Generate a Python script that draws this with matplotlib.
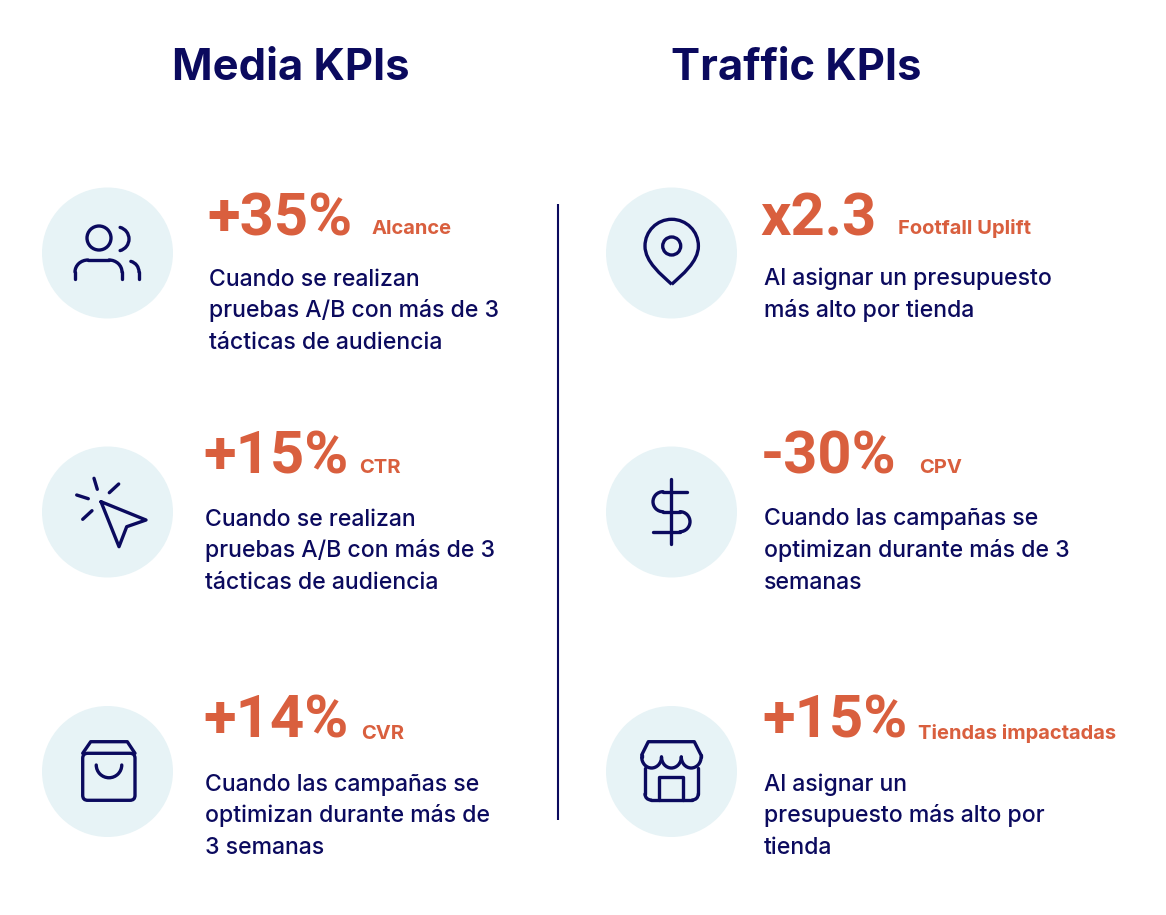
# -*- coding: utf-8 -*-
import numpy as np
import matplotlib
matplotlib.use("Agg")
import matplotlib.pyplot as plt
from matplotlib.patches import Circle, Arc, PathPatch, FancyBboxPatch
from matplotlib.path import Path

NAVY = "#0b0a5e"
ORANGE = "#d95f3e"
PALE = "#e7f3f6"
FONT = "Inter"
VALUE_FONT = "Roboto"

# data
titles = ["Media KPIs", "Traffic KPIs"]
values = ["+35%", "+15%", "+14%", "x2.3", "-30%", "+15%"]
labels = ["Alcance", "CTR", "CVR", "Footfall Uplift", "CPV", "Tiendas impactadas"]
bodies = [
    ["Cuando se realizan", "pruebas A/B con más de 3", "tácticas de audiencia"],
    ["Cuando se realizan", "pruebas A/B con más de 3", "tácticas de audiencia"],
    ["Cuando las campañas se", "optimizan durante más de", "3 semanas"],
    ["Al asignar un presupuesto", "más alto por tienda"],
    ["Cuando las campañas se", "optimizan durante más de 3", "semanas"],
    ["Al asignar un", "presupuesto más alto por", "tienda"],
]

# layout, in pixels
title_x = [172, 671]
circle_x = [107.5, 107.5, 107.5, 671.5, 671.5, 671.5]
circle_y = [253, 512, 771.5, 253, 512, 771.5]
value_x = [207, 203, 203, 760, 761, 762]
value_y = [235, 474, 738, 235, 474, 738]
label_x = [372, 359, 361, 898, 919, 918]
label_y = [234, 473, 739, 234, 473, 739]
body_x = [209, 205, 205, 764, 764, 764]
body_y = [285.5, 525.5, 790.5, 285.5, 525.5, 790.5]

fig = plt.figure(figsize=(11.66, 9.15), dpi=100)
ax = fig.add_axes([0, 0, 1, 1])
ax.set_xlim(0, 1166)
ax.set_ylim(915, 0)
ax.axis("off")

LW = 2.4


def stroke(xs, ys):
    ax.plot(xs, ys, color=NAVY, lw=LW, solid_capstyle="round",
            solid_joinstyle="round", zorder=3)


def arc(cx, cy, w, h, t1, t2):
    ax.add_patch(Arc((cx, cy), w, h, theta1=t1, theta2=t2, color=NAVY, lw=LW,
                     capstyle="round", zorder=3))


def users_icon():
    ax.add_patch(Circle((99, 238), 12, fill=False, ec=NAVY, lw=LW, zorder=3))
    arc(117, 239, 24, 24, -75, 75)
    arc(88, 272, 26, 24, 180, 270)
    arc(109, 272, 26, 24, 270, 360)
    stroke([88, 109], [260, 260])
    stroke([75, 75], [272, 279])
    stroke([122, 122], [272, 279])
    arc(128, 272, 22, 22, 285, 360)
    stroke([139, 139], [272, 279])


def cursor_icon():
    stroke([101, 146, 126.7, 119, 101], [501.7, 520, 526.7, 546.7, 501.7])
    stroke([94, 97.3], [478.3, 489.3])
    stroke([109.3, 118.7], [492.7, 484])
    stroke([76.7, 88.3], [495, 498.7])
    stroke([82.7, 92], [519.3, 510.7])


def bag_icon():
    ax.add_patch(FancyBboxPatch((87.7, 758.3), 42.3, 37, boxstyle="round,pad=5,rounding_size=5",
                                fill=False, ec=NAVY, lw=LW, zorder=3))
    stroke([82.7, 90.7, 127.3, 135], [753.3, 741.7, 741.7, 753.3])
    arc(109, 765, 25.5, 25.5, 0, 180)


def pin_icon():
    cx, cy, r = 671.7, 246, 26.7
    k = 0.5523 * r
    verts = [(cx, 284.3),
             (cx - 10, 275), (cx - r, 262), (cx - r, cy),
             (cx - r, cy - k), (cx - k, cy - r), (cx, cy - r),
             (cx + k, cy - r), (cx + r, cy - k), (cx + r, cy),
             (cx + r, 262), (cx + 10, 275), (cx, 284.3)]
    codes = [Path.MOVETO] + [Path.CURVE4] * 12
    ax.add_patch(PathPatch(Path(verts, codes), fill=False, ec=NAVY, lw=LW,
                           joinstyle="round", zorder=3))
    ax.add_patch(Circle((cx, cy), 9, fill=False, ec=NAVY, lw=LW, zorder=3))


def dollar_icon():
    stroke([671, 671], [479.3, 544])
    stroke([686.7, 663], [491.7, 491.7])
    arc(663, 501.7, 20, 20, 90, 270)
    stroke([663, 680], [511.7, 511.7])
    arc(680, 521.7, 20, 20, 270, 450)
    stroke([680, 652.7], [531.7, 531.7])


def store_icon():
    stroke([641.7, 648.3, 694.3, 701], [755, 741.7, 741.7, 755])
    for sx in [651.6, 671.4, 691.2]:
        arc(sx, 757, 19.8, 22, 0, 180)
    stroke([641.7, 641.7], [755, 757])
    stroke([701, 701], [755, 757])
    stroke([645, 645], [768, 794])
    stroke([698.3, 698.3], [768, 794])
    arc(651, 794, 12, 12, 90, 180)
    arc(692.3, 794, 12, 12, 0, 90)
    stroke([651, 692.3], [800, 800])
    stroke([659.3, 659.3, 683.3, 683.3], [800, 776.7, 776.7, 800])


icons = [users_icon, cursor_icon, bag_icon, pin_icon, dollar_icon, store_icon]

for t, x in zip(titles, title_x):
    ax.text(x, 79.5, t, color=NAVY, fontsize=31.3, fontweight="bold", family=FONT,
            ha="left", va="baseline")

ax.plot([558, 558], [204, 820], color=NAVY, lw=1.5, solid_capstyle="butt")

for i in range(6):
    ax.add_patch(Circle((circle_x[i], circle_y[i]), 65.5, fc=PALE, ec="none", zorder=1))
    icons[i]()
    ax.text(value_x[i], value_y[i], values[i], color=ORANGE, fontsize=43,
            fontweight="bold", family=VALUE_FONT, ha="left", va="baseline")
    ax.text(label_x[i], label_y[i], labels[i], color=ORANGE, fontsize=14.5,
            fontweight="bold", family=FONT, ha="left", va="baseline")
    for j, line in enumerate(bodies[i]):
        ax.text(body_x[i], body_y[i] + j * 31.6, line, color=NAVY, fontsize=16.6,
                fontweight="medium", family=FONT, ha="left", va="baseline")

fig.savefig("out.png", dpi=100, facecolor="white")
